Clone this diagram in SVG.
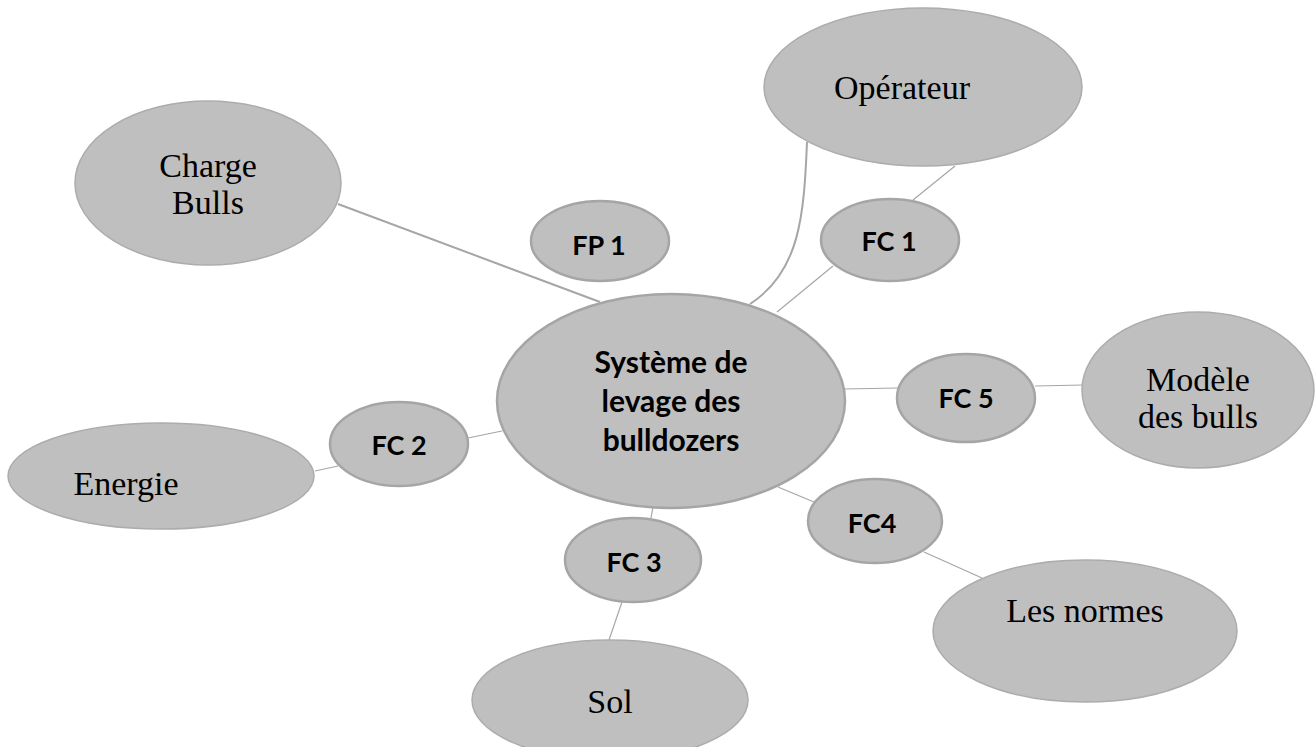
<svg xmlns="http://www.w3.org/2000/svg" width="1315" height="747" viewBox="0 0 1315 747">
<style>
.big{fill:#bfbfbf;stroke:#acacac;stroke-width:1.5}
.fc{fill:#bfbfbf;stroke:#a5a5a5;stroke-width:2.5}
.ctr{fill:#bfbfbf;stroke:#a5a5a5;stroke-width:2.5}
.ser{font-family:"Liberation Serif","DejaVu Serif",serif;font-size:34px;fill:#000;text-anchor:middle}
.bld{font-family:Lato,"Liberation Sans",sans-serif;font-weight:bold;font-size:27px;fill:#000;text-anchor:middle}
.bc{font-size:30px}
.ln{stroke:#a6a6a6;stroke-width:1.2;fill:none}
.lt{stroke:#a6a6a6;stroke-width:2;fill:none}
</style>
<rect width="1315" height="747" fill="#fff"/>
<g id="connectors">
<line class="lt" x1="338" y1="204" x2="600" y2="302"/>
<path class="lt" d="M807,142 C804,215 800,272 750,304"/>
<line class="ln" x1="955" y1="166" x2="913" y2="200"/>
<line class="ln" x1="833" y1="266" x2="777" y2="312"/>
<line class="ln" x1="468" y1="438" x2="502" y2="431"/>
<line class="ln" x1="315" y1="471" x2="338" y2="466"/>
<line class="ln" x1="653" y1="507" x2="651" y2="518"/>
<line class="ln" x1="622" y1="602" x2="609" y2="640"/>
<line class="ln" x1="778" y1="487" x2="814" y2="502"/>
<line class="ln" x1="924" y1="552" x2="982" y2="578"/>
<line class="ln" x1="844" y1="389" x2="898" y2="388"/>
<line class="ln" x1="1035" y1="386" x2="1083" y2="385"/>
</g>
<g id="operateur"><ellipse class="big" cx="923" cy="87" rx="159" ry="79"/><text class="ser" x="902" y="99">Opérateur</text></g>
<g id="charge"><ellipse class="big" cx="208" cy="183" rx="133" ry="82"/><text class="ser" x="208" y="177">Charge</text><text class="ser" x="208" y="214">Bulls</text></g>
<g id="fp1"><ellipse class="fc" cx="600" cy="241" rx="69" ry="40"/><text class="bld" x="599" y="255">FP 1</text></g>
<g id="fc1"><ellipse class="fc" cx="890" cy="240" rx="69" ry="41"/><text class="bld" x="889" y="251">FC 1</text></g>
<g id="systeme"><ellipse class="ctr" cx="671" cy="401" rx="174" ry="107"/><text class="bld bc" x="671" y="373">Système de</text><text class="bld bc" x="671" y="412">levage des</text><text class="bld bc" x="671" y="451">bulldozers</text></g>
<g id="fc5"><ellipse class="fc" cx="966" cy="398" rx="69" ry="44"/><text class="bld" x="966" y="408">FC 5</text></g>
<g id="modele"><ellipse class="big" cx="1198" cy="390" rx="116" ry="78"/><text class="ser" x="1198" y="391">Modèle</text><text class="ser" x="1198" y="428">des bulls</text></g>
<g id="fc2"><ellipse class="fc" cx="399" cy="444" rx="69" ry="42"/><text class="bld" x="399" y="455">FC 2</text></g>
<g id="energie"><ellipse class="big" cx="161" cy="476" rx="153" ry="53"/><text class="ser" x="126" y="495">Energie</text></g>
<g id="fc3"><ellipse class="fc" cx="633" cy="560" rx="68" ry="42"/><text class="bld" x="634" y="572">FC 3</text></g>
<g id="sol"><ellipse class="big" cx="610" cy="700" rx="138" ry="60"/><text class="ser" x="610" y="713">Sol</text></g>
<g id="fc4"><ellipse class="fc" cx="875" cy="521" rx="67" ry="42"/><text class="bld" x="872" y="533">FC4</text></g>
<g id="normes"><ellipse class="big" cx="1085" cy="631" rx="152" ry="71"/><text class="ser" x="1085" y="622">Les normes</text></g>
</svg>
